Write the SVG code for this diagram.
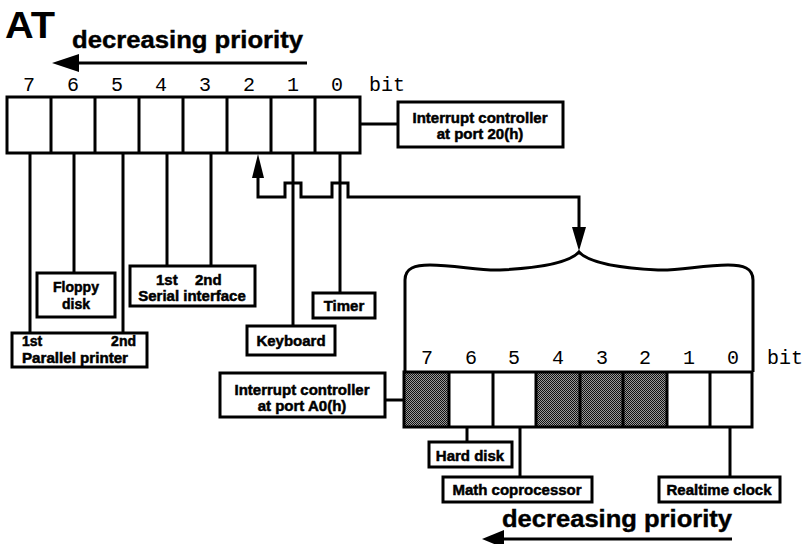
<svg xmlns="http://www.w3.org/2000/svg" width="809" height="544" viewBox="0 0 809 544">
<style>
.ln{fill:none;stroke:#000;stroke-width:3}
.box{fill:#fff;stroke:#000;stroke-width:3}
.lbl{font-family:"Liberation Sans",Arial,sans-serif;font-weight:bold;font-size:15px;fill:#000;stroke:#000;stroke-width:0.5}
.sm{font-size:14px}
.bit{font-family:"Liberation Mono","Courier New",monospace;font-size:20px;fill:#000;text-anchor:middle}
.pri{font-family:"Liberation Sans",Arial,sans-serif;font-weight:bold;font-size:23px;fill:#000;stroke:#000;stroke-width:0.4}
.mid{text-anchor:middle}
.ah{fill:#000}
</style>
<defs>
<pattern id="hatch" width="2" height="2" patternUnits="userSpaceOnUse">
<rect width="2" height="2" fill="#9a9a9a"/>
<rect width="1" height="1" fill="#111"/>
<rect x="1" y="1" width="1" height="1" fill="#111"/>
</pattern>
</defs>
<rect width="809" height="544" fill="#fff"/>

<text x="5" y="38" font-family="Liberation Sans,Arial,sans-serif" font-weight="bold" font-size="36" textLength="50" lengthAdjust="spacingAndGlyphs">AT</text>

<g id="priority-top">
<text class="pri" x="72" y="48" textLength="231" lengthAdjust="spacingAndGlyphs">decreasing priority</text>
<line class="ln" x1="307" y1="63" x2="74" y2="63"/>
<polygon class="ah" points="52,63 79,54 79,72"/>
</g>

<g id="register-20">
<g class="bit">
<text x="29" y="91">7</text><text x="73" y="91">6</text><text x="117" y="91">5</text><text x="161" y="91">4</text>
<text x="205" y="91">3</text><text x="249" y="91">2</text><text x="293" y="91">1</text><text x="337" y="91">0</text>
</g>
<text class="bit" x="387" y="91">bit</text>
<rect class="box" x="7" y="97" width="353" height="56"/>
<path class="ln" d="M51,97V153M95,97V153M139,97V153M183,97V153M227,97V153M271,97V153M315,97V153"/>
</g>

<g id="ctrl-20">
<rect class="box" x="398" y="102" width="165" height="45"/>
<text class="lbl mid" x="480" y="123">Interrupt controller</text>
<text class="lbl mid" x="480" y="139">at port 20(h)</text>
</g>

<g id="floppy">
<rect class="box" x="37" y="273" width="78" height="44"/>
<text class="lbl sm mid" x="76" y="292">Floppy</text>
<text class="lbl sm mid" x="76" y="309">disk</text>
</g>

<g id="parallel">
<rect class="box" x="12" y="333" width="135" height="34"/>
<text class="lbl sm" x="22" y="346">1st</text>
<text class="lbl sm" x="136" y="346" text-anchor="end">2nd</text>
<text class="lbl sm" x="22" y="363" textLength="106" lengthAdjust="spacingAndGlyphs">Parallel printer</text>
</g>

<g id="serial">
<rect class="box" x="130" y="266" width="125" height="40"/>
<text class="lbl" x="156" y="285">1st</text>
<text class="lbl" x="195" y="285">2nd</text>
<text class="lbl mid" x="192" y="301">Serial interface</text>
</g>

<g id="timer">
<rect class="box" x="313" y="293" width="62" height="25"/>
<text class="lbl mid" x="344" y="311">Timer</text>
</g>

<g id="keyboard">
<rect class="box" x="247" y="326" width="88" height="29"/>
<text class="lbl mid" x="291" y="346">Keyboard</text>
</g>

<g id="register-A0">
<rect x="404" y="372" width="45" height="55" fill="url(#hatch)"/>
<rect x="536" y="372" width="131" height="55" fill="url(#hatch)"/>
<g class="bit">
<text x="427" y="364">7</text><text x="471" y="364">6</text><text x="514" y="364">5</text><text x="558" y="364">4</text>
<text x="602" y="364">3</text><text x="645" y="364">2</text><text x="689" y="364">1</text><text x="733" y="364">0</text>
</g>
<text class="bit" x="785" y="364">bit</text>
<rect x="404" y="372" width="348" height="55" fill="none" stroke="#000" stroke-width="3"/>
<path class="ln" d="M449,372V427M493,372V427M536,372V427M580,372V427M623,372V427M667,372V427M710,372V427"/>
</g>

<g id="ctrl-A0">
<rect class="box" x="220" y="373" width="165" height="44"/>
<text class="lbl mid" x="302" y="395">Interrupt controller</text>
<text class="lbl mid" x="302" y="411">at port A0(h)</text>
</g>

<g id="harddisk">
<rect class="box" x="429" y="442" width="83" height="25"/>
<text class="lbl mid" x="470" y="461">Hard disk</text>
</g>

<g id="math">
<rect class="box" x="443" y="477" width="149" height="25"/>
<text class="lbl mid" x="517" y="495">Math coprocessor</text>
</g>

<g id="rtc">
<rect class="box" x="659" y="477" width="121" height="25"/>
<text class="lbl mid" x="719" y="495">Realtime clock</text>
</g>

<g id="priority-bottom">
<text class="pri" x="502" y="527" textLength="230" lengthAdjust="spacingAndGlyphs">decreasing priority</text>
<line class="ln" x1="732" y1="539" x2="500" y2="539"/>
<polygon class="ah" points="482,539 504,530 504,548"/>
</g>

<g id="connectors">
<path class="ln" d="M360,124H398"/>
<path class="ln" d="M30,153V333M123,153V333"/>
<path class="ln" d="M74,153V273"/>
<path class="ln" d="M167,153V266M211,153V266"/>
<path class="ln" d="M293,153V326"/>
<path class="ln" d="M340,153V293"/>
<path class="ln" d="M258,176V197H285V183H301V197H332V183H348V197H579V229"/>
<polygon class="ah" points="258,154 252,178 264,178"/>
<polygon class="ah" points="579,251 572,227 586,227"/>
<path class="ln" d="M405,372V280C405,268 415,265 430,265C455,265 480,271 500,270C540,268 570,262 579,252C588,262 618,268 658,270C678,271 703,265 728,265C743,265 753,268 753,280V372"/>
<path class="ln" d="M385,400H404"/>
<path class="ln" d="M467,427V442"/>
<path class="ln" d="M520,427V477"/>
<path class="ln" d="M730,427V477"/>
</g>
</svg>
